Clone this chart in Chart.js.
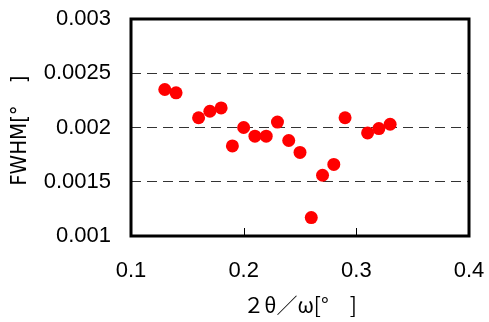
<!DOCTYPE html>
<html>
<head>
<meta charset="utf-8">
<script src="https://cdn.jsdelivr.net/npm/chart.js@4/dist/chart.umd.min.js"></script>
<style>
  html, body { margin: 0; padding: 0; background: #fff; }
  #wrap { width: 489px; height: 322px; }
</style>
</head>
<body>
<div id="wrap"><canvas id="fwhm" width="489" height="322"></canvas></div>
<script>
// data
const twoTheta = [0.13, 0.14, 0.16, 0.17, 0.18, 0.19, 0.20, 0.21, 0.22, 0.23,
                  0.24, 0.25, 0.26, 0.27, 0.28, 0.29, 0.31, 0.32, 0.33];
const fwhm = [0.00235, 0.00232, 0.00209, 0.00215, 0.00218, 0.00183, 0.00200, 0.00192, 0.00192, 0.00205,
              0.00188, 0.00177, 0.00117, 0.00156, 0.00166, 0.00209, 0.00195, 0.00199, 0.00203];
const xTicks = [0.1, 0.2, 0.3, 0.4];
const yTicks = [0.001, 0.0015, 0.002, 0.0025, 0.003];

const tickFont = '"Liberation Sans", Arial, sans-serif';
const cjkFont = '"Noto Sans CJK JP", sans-serif';

// frame around the plot + short inner tick marks on x
const frame = {
  id: 'frame',
  afterDraw(chart) {
    const { ctx, chartArea: a, scales } = chart;
    ctx.save();
    ctx.strokeStyle = '#000';
    ctx.lineWidth = 1;
    xTicks.slice(1, -1).forEach(v => {
      const x = Math.round(scales.x.getPixelForValue(v)) + 0.5;
      ctx.beginPath();
      ctx.moveTo(x, a.bottom);
      ctx.lineTo(x, a.bottom - 8);
      ctx.stroke();
    });
    ctx.lineWidth = 3;
    ctx.strokeRect(a.left, a.top, a.right - a.left, a.bottom - a.top);
    ctx.restore();
  }
};

new Chart(document.getElementById('fwhm'), {
  type: 'scatter',
  data: {
    datasets: [{
      data: twoTheta.map((x, i) => ({ x: x, y: fwhm[i] })),
      backgroundColor: '#ff0000',
      borderWidth: 0,
      pointRadius: 6.5,
      pointHoverRadius: 6.5,
    }]
  },
  options: {
    responsive: false,
    animation: false,
    layout: { padding: { top: 19, right: 20, bottom: 0, left: 0 } },
    plugins: { legend: { display: false }, tooltip: { enabled: false } },
    scales: {
      x: {
        type: 'linear',
        min: 0.1, max: 0.4,
        afterBuildTicks: s => { s.ticks = xTicks.map(v => ({ value: v })); },
        afterFit: s => { s.height = 86; s.paddingLeft = 0; s.paddingRight = 0; },
        grid: { display: false, drawTicks: false },
        border: { display: false },
        ticks: {
          padding: 22,
          color: '#000',
          font: { family: tickFont, size: 22 },
          callback: v => v.toFixed(1),
        },
        title: {
          display: true,
          text: '２θ／ω[°　]',
          color: '#000',
          font: { family: cjkFont, size: 21 },
          padding: { top: 0, bottom: 4 },
        }
      },
      y: {
        type: 'linear',
        min: 0.001, max: 0.003,
        afterBuildTicks: s => { s.ticks = yTicks.map(v => ({ value: v })); },
        afterFit: s => { s.width = 131; s.paddingTop = 0; s.paddingBottom = 0; },
        grid: {
          color: ctx => (ctx.tick && (ctx.tick.value === 0.001 || ctx.tick.value === 0.003)) ? 'rgba(0,0,0,0)' : '#333',
          lineWidth: 1,
          drawTicks: false,
        },
        border: { display: false, dash: [10, 6] },
        ticks: {
          padding: 20,
          color: '#000',
          font: { family: tickFont, size: 22 },
          callback: v => String(+v.toFixed(4)),
        },
        title: {
          display: true,
          text: 'FWHM[°　] ',
          color: '#000',
          font: { family: '"DejaVu Sans Condensed", ' + tickFont, size: 22 },
          padding: { top: 7, bottom: 0 },
        }
      }
    }
  },
  plugins: [frame]
});
</script>
</body>
</html>
